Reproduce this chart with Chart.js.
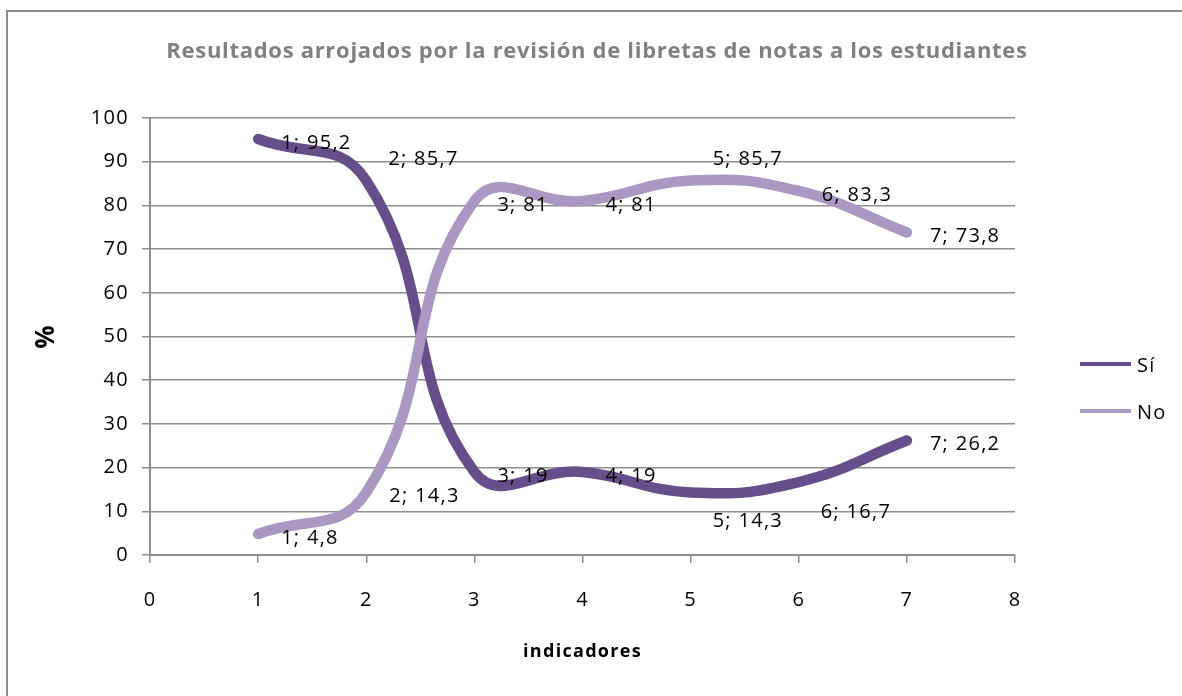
<!DOCTYPE html>
<html>
<head>
<meta charset="utf-8">
<script src="https://cdn.jsdelivr.net/npm/chart.js@4"></script>
<style>
    html, body { margin: 0; padding: 0; background: #fff; overflow: hidden; }
    #wrap { position: relative; width: 1182px; height: 696px; }
    #frame {
        position: absolute; left: 6px; top: 10px; width: 1400px; height: 900px;
        border: 2px solid #8c8c8c; pointer-events: none;
    }
</style>
</head>
<body>
<div id="wrap">
    <canvas id="chart" width="1182" height="696"></canvas>
    <div id="frame"></div>
</div>
<script>
const indicadores = [1, 2, 3, 4, 5, 6, 7];
const si = [95.2, 85.7, 19, 19, 14.3, 16.7, 26.2];
const no = [4.8, 14.3, 81, 81, 85.7, 83.3, 73.8];
const seriesNames = ["Sí", "No"];
const xTicks = [0, 1, 2, 3, 4, 5, 6, 7, 8];
const yTicks = [0, 10, 20, 30, 40, 50, 60, 70, 80, 90, 100];

const colorSi = "#654f8a";
const colorNo = "#a898c2";
const gridColor = "#8e8e8e";
const fontFamily = "'Open Sans', Lato, sans-serif";
const spacing = "1.3px";
const titleSpacing = "0.7px";

function toPoints(values) {
    return indicadores.map((x, i) => ({ x: x, y: values[i] }));
}

// label placement per point: [dx, dy] relative to the point
const labelNudge = {
    0: { 1: [22, -21], 4: [22, 29], 5: [22, 30] },
    1: { 4: [22, -21] }
};

// wider lettering for ticks and labels, a little less for the chart title
const spacingPlugin = {
    id: "spacing",
    afterInit(chart) {
        const tb = chart.titleBlock;
        if (tb) {
            const draw = tb.draw.bind(tb);
            tb.draw = function (area) {
                chart.ctx.letterSpacing = titleSpacing;
                draw(area);
                chart.ctx.letterSpacing = spacing;
            };
        }
    },
    beforeLayout(chart) { chart.ctx.letterSpacing = spacing; },
    beforeDraw(chart) { chart.ctx.letterSpacing = spacing; }
};

const labelPlugin = {
    id: "pointLabels",
    afterDatasetsDraw(chart) {
        const ctx = chart.ctx;
        ctx.save();
        ctx.letterSpacing = spacing;
        ctx.font = "20px " + fontFamily;
        ctx.fillStyle = "#000";
        ctx.textAlign = "left";
        ctx.textBaseline = "middle";
        chart.data.datasets.forEach((ds, di) => {
            const meta = chart.getDatasetMeta(di);
            meta.data.forEach((pt, i) => {
                const v = ds.data[i];
                const text = v.x + "; " + String(v.y).replace(".", ",");
                const n = (labelNudge[di] && labelNudge[di][i]) || [23, 4];
                ctx.fillText(text, pt.x + n[0], pt.y + n[1]);
            });
        });
        ctx.restore();
    }
};

const legendPlugin = {
    id: "sideLegend",
    afterDraw(chart) {
        const ctx = chart.ctx;
        const colors = [colorSi, colorNo];
        const x0 = chart.chartArea.right + 65;
        ctx.save();
        ctx.letterSpacing = spacing;
        ctx.font = "20px " + fontFamily;
        ctx.textBaseline = "middle";
        seriesNames.forEach((name, i) => {
            const y = 364 + i * 47;
            ctx.strokeStyle = colors[i];
            ctx.lineWidth = 4;
            ctx.beginPath();
            ctx.moveTo(x0, y);
            ctx.lineTo(x0 + 51, y);
            ctx.stroke();
            ctx.fillStyle = "#000";
            ctx.fillText(name, x0 + 57, y + 2);
        });
        ctx.restore();
    }
};

new Chart(document.getElementById("chart"), {
    type: "scatter",
    data: {
        datasets: [
            {
                label: seriesNames[0],
                data: toPoints(si),
                borderColor: colorSi,
                backgroundColor: colorSi,
                borderWidth: 10.5,
                showLine: true,
                tension: 0.45,
                pointRadius: 0,
                borderCapStyle: "round",
                borderJoinStyle: "round",
                order: 2
            },
            {
                label: seriesNames[1],
                data: toPoints(no),
                borderColor: colorNo,
                backgroundColor: colorNo,
                borderWidth: 10.5,
                showLine: true,
                tension: 0.45,
                pointRadius: 0,
                borderCapStyle: "round",
                borderJoinStyle: "round",
                order: 1
            }
        ]
    },
    options: {
        responsive: false,
        animation: false,
        devicePixelRatio: 1,
        layout: { padding: { left: 12, right: 0, top: 0, bottom: 0 } },
        plugins: {
            legend: { display: false },
            tooltip: { enabled: false },
            title: {
                display: true,
                text: "Resultados arrojados por la revisión de libretas de notas a los estudiantes",
                color: "#808080",
                font: { family: fontFamily, size: 22, weight: "bold", lineHeight: 1.2 },
                padding: { top: 39, bottom: 52.6 }
            }
        },
        scales: {
            x: {
                type: "linear",
                min: xTicks[0],
                max: xTicks[xTicks.length - 1],
                afterBuildTicks(scale) { scale.ticks = xTicks.map(v => ({ value: v })); },
                afterFit(scale) { scale.height = 141; },
                grid: { drawOnChartArea: false, drawTicks: true, tickLength: 8, color: gridColor, lineWidth: 1.5 },
                border: { color: gridColor, width: 2 },
                ticks: { color: "#000", padding: 25, font: { family: fontFamily, size: 20 } },
                title: {
                    display: true,
                    text: "indicadores",
                    color: "#000",
                    font: { family: fontFamily, size: 18, weight: "bold", lineHeight: 1.2 },
                    padding: { top: 0, bottom: 33 }
                }
            },
            y: {
                min: yTicks[0],
                max: yTicks[yTicks.length - 1],
                afterBuildTicks(scale) { scale.ticks = yTicks.map(v => ({ value: v })); },
                afterFit(scale) { scale.width = 138; },
                grid: { color: gridColor, lineWidth: 1.5, tickLength: 8 },
                border: { color: gridColor, width: 2 },
                ticks: { color: "#000", padding: 13, font: { family: fontFamily, size: 20 } },
                title: {
                    display: true,
                    text: "%",
                    color: "#000",
                    font: { family: fontFamily, size: 26, weight: "bold", lineHeight: 1.2 },
                    padding: { top: 19, bottom: 0 }
                }
            },
            side: {
                type: "linear",
                position: "right",
                display: true,
                grid: { display: false },
                border: { display: false },
                ticks: { display: false },
                afterFit(scale) { scale.width = 167; }
            }
        }
    },
    plugins: [spacingPlugin, labelPlugin, legendPlugin]
});
</script>
</body>
</html>
